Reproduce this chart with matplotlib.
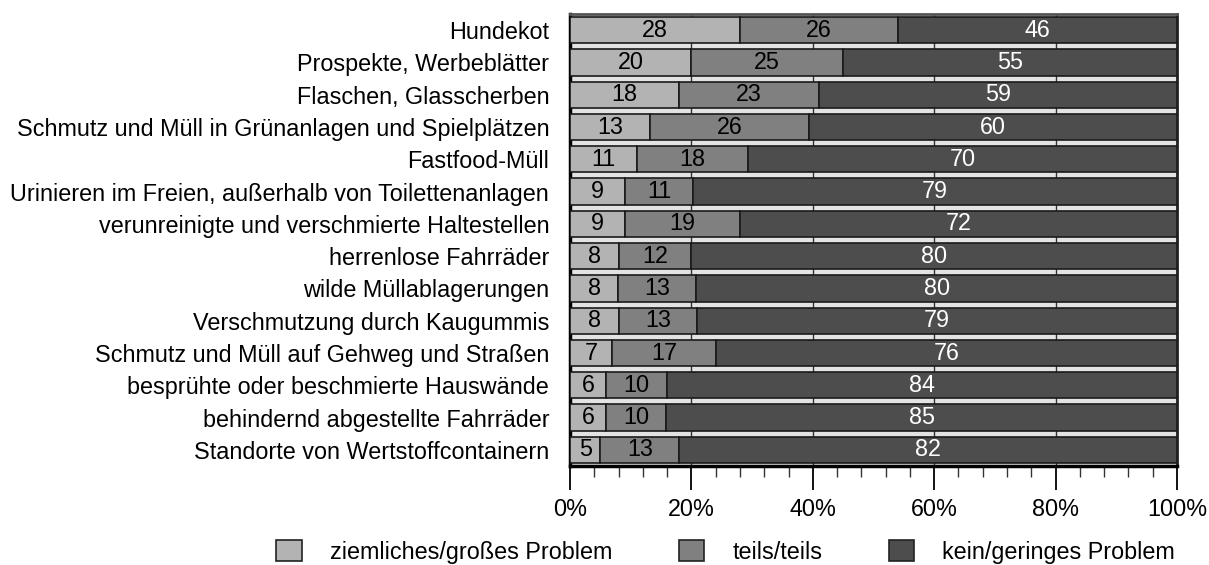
import matplotlib
matplotlib.use("Agg")
import matplotlib.pyplot as plt
from matplotlib.patches import Patch
from matplotlib.ticker import MultipleLocator, PercentFormatter
import numpy as np

plt.rcParams['font.family'] = ['Liberation Sans', 'DejaVu Sans']

categories = [
    "Hundekot",
    "Prospekte, Werbeblätter",
    "Flaschen, Glasscherben",
    "Schmutz und Müll in Grünanlagen und Spielplätzen",
    "Fastfood-Müll",
    "Urinieren im Freien, außerhalb von Toilettenanlagen",
    "verunreinigte und verschmierte Haltestellen",
    "herrenlose Fahrräder",
    "wilde Müllablagerungen",
    "Verschmutzung durch Kaugummis",
    "Schmutz und Müll auf Gehweg und Straßen",
    "besprühte oder beschmierte Hauswände",
    "behindernd abgestellte Fahrräder",
    "Standorte von Wertstoffcontainern",
]
gross = [28, 20, 18, 13, 11, 9, 9, 8, 8, 8, 7, 6, 6, 5]
teils = [26, 25, 23, 26, 18, 11, 19, 12, 13, 13, 17, 10, 10, 13]
kein = [46, 55, 59, 60, 70, 79, 72, 80, 80, 79, 76, 84, 85, 82]
series_names = ["ziemliches/großes Problem", "teils/teils", "kein/geringes Problem"]
colors = ["#b3b3b3", "#808080", "#4d4d4d"]
text_colors = ["black", "black", "white"]

FS = 16.8

data = np.array([gross, teils, kein], dtype=float)
shares = data / data.sum(axis=0) * 100

fig = plt.figure(figsize=(12.09, 5.65), dpi=100)
ax = fig.add_axes([570/1209, 1-466/565, 607/1209, 452/565])
ax.set_facecolor("#e3e3e3")

y = np.arange(len(categories))
left = np.zeros(len(categories))
for i in range(3):
    bars = ax.barh(y, shares[i], left=left, height=0.81, color=colors[i],
                   edgecolor="#1a1a1a", linewidth=1.2, zorder=3)
    for j, b in enumerate(bars):
        ax.text(left[j] + shares[i][j] / 2, y[j], f"{int(data[i][j])}",
                ha="center", va="center", fontsize=FS, color=text_colors[i], zorder=4)
    left += shares[i]

ax.set_ylim(len(categories) - 0.5, -0.5)
ax.set_xlim(0, 100)
ax.set_yticks(y)
ax.set_yticklabels(categories, fontsize=FS)
ax.tick_params(axis="y", length=0, pad=15)
ax.xaxis.set_major_locator(MultipleLocator(20))
ax.xaxis.set_minor_locator(MultipleLocator(4))
ax.xaxis.set_major_formatter(PercentFormatter(decimals=0))
ax.tick_params(axis="x", which="major", length=17, width=1.3, color="black", labelsize=FS, pad=6)
ax.tick_params(axis="x", which="minor", length=8, width=1.0, color="#333333")
ax.grid(axis="x", which="major", color="#333333", linewidth=1.0, zorder=1)

ax.spines["left"].set_linewidth(2.5)
ax.spines["bottom"].set_linewidth(2.5)
ax.spines["top"].set_color("#555555")
ax.spines["top"].set_linewidth(2)
ax.spines["right"].set_color("#222222")
ax.spines["right"].set_linewidth(2)

handles = [Patch(facecolor=c, edgecolor="#222222", linewidth=1.2) for c in colors]
fig.legend(handles, series_names, loc="center left", bbox_to_anchor=(276/1209, 1-552/565),
           ncol=3, frameon=False, fontsize=FS, handlelength=1.1, handleheight=1.0,
           handletextpad=1.2, columnspacing=2.85, borderaxespad=0, borderpad=0)

fig.savefig("out.png", dpi=100)
